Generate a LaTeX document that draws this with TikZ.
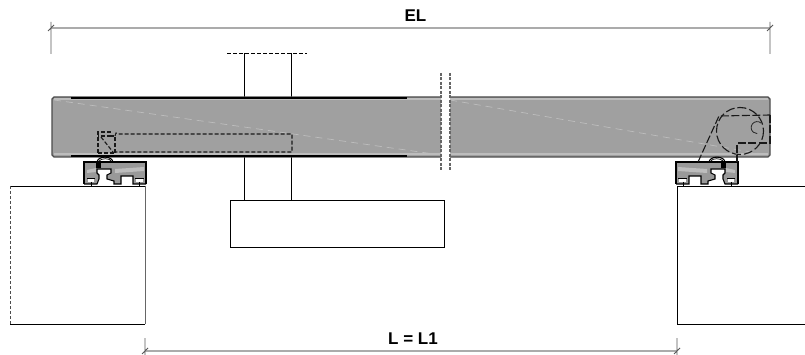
\documentclass[tikz,border=0pt]{standalone}
\usepackage{fontspec}
\setmainfont{Liberation Sans}
\definecolor{beamgray}{HTML}{A0A0A0}
\definecolor{stripe}{HTML}{BDBDBD}
\definecolor{dimgray}{HTML}{ABABAB}
\definecolor{railgray}{HTML}{999999}
\tikzset{
  outline/.style={draw=black,line width=0.8pt},
  hidden/.style={draw=black!90,line width=1.1pt,dash pattern=on 4pt off 2pt},
  lighthidden/.style={draw=stripe,line width=0.7pt,dash pattern=on 7pt off 5pt},
  dimline/.style={draw=dimgray,line width=1.1pt},
  dimtick/.style={draw=black!65,line width=0.8pt},
  dimlabel/.style={font=\bfseries\fontsize{17}{17}\selectfont,text=black,inner sep=0pt},
  heavy/.style={draw=black,line width=2.4pt},
}
\newcommand{\railshape}{%
    \fill[railgray] (84,162) -- (146,162) -- (146,184) -- (84,184) -- cycle;
    \fill[stripe] (87,170) -- (96,168) -- (96,172) -- (87,173) -- cycle;
    \fill[stripe] (115,169) -- (144,167) -- (144,171) -- (115,173) -- cycle;
    \fill[white] (97,169) -- (111,169) -- (111,173) -- (107,175) -- (107,179) -- (114,181) -- (114,184) -- (97,184) -- (99,179) -- (99,175) -- (97,173) -- cycle;
    \fill[white] (121,176) -- (133,176) -- (133,184) -- (121,184) -- cycle;
    \draw[black,line width=1.3pt] (84,184) -- (84,162) -- (146,162) -- (146,184);
    \draw[black,line width=1.1pt] (84,184) -- (97,184) -- (99,179) -- (99,175) -- (97,173) -- (97,169) -- (111,169) -- (111,173) -- (107,175) -- (107,179) -- (114,181) -- (114,184) -- (121,184) -- (121,176) -- (133,176) -- (133,184) -- (146,184);
    \fill[white] (88,179) rectangle (94,182);
    \fill[white] (136,179) rectangle (143,182);
    \draw[black,line width=1.1pt] (87,178.5) -- (95,178.5) (135,178.5) -- (144,178.5);
    \draw[black,line width=0.8pt] (91,182) -- (91,186.5) (88,186.5) -- (102,186.5);
    \draw[black,line width=0.8pt] (139,182) -- (139,186.5) (128,186.5) -- (140,186.5);
    \draw[black,line width=1.1pt] (97,162) .. controls (98,155.5) and (112,155.5) .. (113,162);
    \draw[black,line width=0.7pt] (99,161) .. controls (101,158) and (110,158) .. (111,161);
    \fill[black] (96,163) rectangle (101,168);
}
\begin{document}
\begin{tikzpicture}[x=1pt,y=-1pt]
\useasboundingbox (0,0) rectangle (805,355);
\fill[white] (0,0) rectangle (805,355);
% column
\draw[outline] (244,53) -- (244,97) (291,53) -- (291,97);
\draw[outline] (244,157) -- (244,200) (291,157) -- (291,200);
\draw[black,line width=0.7pt,dash pattern=on 4pt off 2pt] (227,53) -- (307,53);
% beam
\fill[beamgray] (54,97) -- (441,97) -- (441,157) -- (54,157) -- (52,155) -- (52,99) -- cycle;
\fill[beamgray] (450,97) -- (768,97) -- (770,99) -- (770,155) -- (768,157) -- (450,157) -- cycle;
\fill[stripe] (54,98) rectangle (441,100.5);
\fill[stripe] (54,153) rectangle (441,155.5);
\fill[stripe] (450,98) rectangle (768,100.5);
\fill[stripe] (450,153) rectangle (768,155.5);
\draw[lighthidden] (54,100) -- (441,155);
\draw[lighthidden] (450,100) -- (768,155);
\draw[draw=black!70,line width=1.1pt] (441,97) -- (54,97) -- (52,99) -- (52,155) -- (54,157) -- (441,157);
\draw[draw=black!70,line width=1.1pt] (450,97) -- (768,97) -- (770,99) -- (770,155) -- (768,157) -- (450,157);
\draw[heavy] (71,98) -- (407,98) (71,156) -- (407,156);
% gap
\draw[draw=black!60,line width=1.2pt,dash pattern=on 3pt off 1.5pt] (441,73) -- (441,172) (450,73) -- (450,172);
% left hidden end
\draw[hidden] (98,153) -- (98,132) -- (110,132) -- (110,136) -- (98,136);
\draw[hidden] (115,153) -- (115,136) -- (110,136);
\draw[hidden] (115,136) -- (116,133) -- (119,134) -- (292,134) -- (292,152) -- (115,152);
\draw[hidden] (101,137) -- (113,152);
\draw[hidden] (98,153) -- (115,153);
% pedestal and blocks
\draw[outline,fill=white] (230,200) rectangle (444,247);
\draw[outline] (10,186) -- (145,186);
\draw[draw=black!60,line width=1pt] (145,186) -- (145,324);
\draw[outline] (145,324) -- (10,324);
\draw[black!70,line width=0.7pt,dash pattern=on 3pt off 2pt] (10,186) -- (10,324);
\draw[outline] (805,186) -- (677,186) -- (677,324) -- (805,324);
% rails
\railshape
\begin{scope}[shift={(822,0)},xscale=-1]
\railshape
\end{scope}
% right hidden end
\draw[hidden,dash pattern=on 9pt off 3pt] (740,131) circle [radius=23.5];
\draw[black!85,line width=0.8pt] (761,123) arc [start angle=-50,end angle=-270,radius=6];
\draw[hidden,dash pattern=on 8pt off 2.5pt] (698,162) -- (719,116) -- (770,115);
\draw[hidden,dash pattern=on 8pt off 2.5pt] (770,115) -- (770,143) -- (737,143) -- (737,162);
% dimensions
\coordinate (elL) at (51,28);
\coordinate (elR) at (770,28);
\coordinate (lL) at (145,351);
\coordinate (lR) at (677,351);
\draw[dimline] (elL) -- (elR);
\draw[dimline] (lL) -- (lR);
\draw[dimtick] (51,22) -- (51,54) (48,31) -- (54,25);
\draw[dimtick] (770,22) -- (770,54) (767,31) -- (773,25);
\draw[dimtick] (145,338) -- (145,355) (142,354) -- (148,348);
\draw[dimtick] (677,338) -- (677,355) (674,354) -- (680,348);
\node[dimlabel] (el) at (415.5,16) {EL};
\node[dimlabel] (ll) at (413,339) {L = L1};
\end{tikzpicture}
\end{document}
